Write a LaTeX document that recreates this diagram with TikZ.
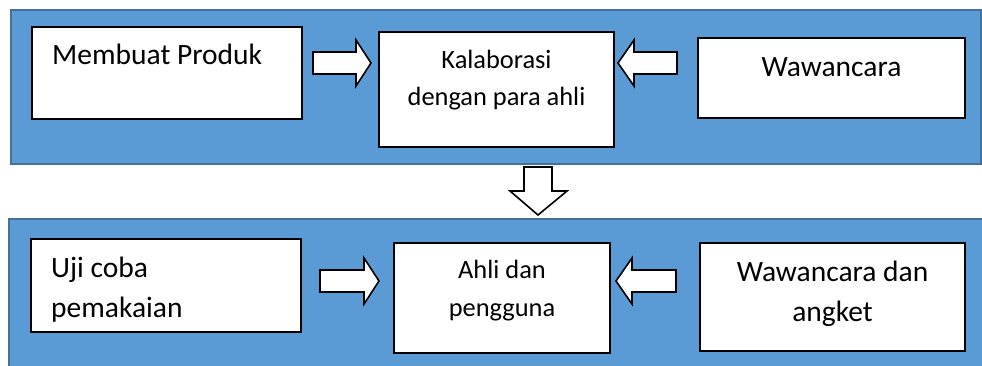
\documentclass[tikz,border=0pt]{standalone}
\usepackage{fontspec}
\setmainfont{Carlito}
\usetikzlibrary{calc}
\definecolor{panelblue}{HTML}{5B9BD5}
\definecolor{panelline}{HTML}{41719C}

% block arrow pointing right / left: tail, tip, head length
\newcommand{\arrright}[3]{\draw[blk] ($(#1)+(0,-11)$) -- ($(#2)+(-#3,-11)$) -- ($(#2)+(-#3,-23)$) -- (#2) -- ($(#2)+(-#3,23)$) -- ($(#2)+(-#3,11)$) -- ($(#1)+(0,11)$) -- cycle;}
\newcommand{\arrleft}[3]{\draw[blk] ($(#1)+(0,-11)$) -- ($(#2)+(#3,-11)$) -- ($(#2)+(#3,-23)$) -- (#2) -- ($(#2)+(#3,23)$) -- ($(#2)+(#3,11)$) -- ($(#1)+(0,11)$) -- cycle;}

\begin{document}
\begin{tikzpicture}[x=1pt,y=-1pt]
        \tikzset{panel/.style={draw=panelline,line width=2pt,fill=panelblue},
                 box/.style={draw,line width=2pt,fill=white,inner sep=0pt},
                 blk/.style={draw,line width=1.6pt,fill=white,line join=miter},
                 big/.style={font=\fontsize{29.5}{40}\selectfont,inner sep=0pt},
                 small/.style={font=\fontsize{26.4}{37}\selectfont,inner sep=0pt}}
        \useasboundingbox (0,0) rectangle (982,365);
        % panels
        \draw[panel] (11,10) rectangle (981,164);
        \draw[panel] (9,219) rectangle (984,370);
        % top row
        \node[box,minimum width=270,minimum height=92] (mb) at (167,73) {};
        \node[big,anchor=base west] (mp) at ($(mb.north west)+(21,38)$) {Membuat Produk};
        \node[box,minimum width=235,minimum height=115] (kb) at (496.5,89.5) {};
        \node[small,anchor=base,align=center] (ka) at ($(kb.north)+(0,74)$) {Kalaborasi\\dengan para ahli};
        \node[box,minimum width=267,minimum height=80] (wb) at (831.5,78) {};
        \node[big,anchor=base] (ww) at ($(wb.north)+(0,39)$) {Wawancara};
        % bottom row
        \node[box,minimum width=270,minimum height=93] (ub) at (166,285.5) {};
        \node[big,anchor=base west,align=left] (uj) at ($(ub.north west)+(21,79)$) {Uji coba\\pemakaian};
        \node[box,minimum width=216,minimum height=110] (ab) at (502,298) {};
        \node[small,anchor=base,align=center,font=\fontsize{26.4}{38}\selectfont] (ad) at ($(ab.north)+(0,74)$) {Ahli dan\\pengguna};
        \node[box,minimum width=265,minimum height=108] (vb) at (832.5,297) {};
        \node[big,anchor=base,align=center] (wa) at ($(vb.north)+(0,79)$) {Wawancara dan\\angket};
        % block arrows
        \coordinate (a1) at ($(mb.east |- 0,63)+(10,0)$); \coordinate (a1t) at ($(kb.west |- 0,63)+(-7,0)$);
        \coordinate (a2) at ($(wb.west |- 0,63)+(-20,0)$); \coordinate (a2t) at ($(kb.east |- 0,63)+(3,0)$);
        \coordinate (a3) at ($(ub.east |- 0,281)+(18,0)$); \coordinate (a3t) at ($(ab.west |- 0,281)+(-14,0)$);
        \coordinate (a4) at ($(vb.west |- 0,281)+(-23,0)$); \coordinate (a4t) at ($(ab.east |- 0,281)+(5,0)$);
        \arrright{a1}{a1t}{15}
        \arrleft{a2}{a2t}{16}
        \arrright{a3}{a3t}{15}
        \arrleft{a4}{a4t}{16}
        \coordinate (d1) at (538,167); \coordinate (d1t) at (538,215);
        \draw[blk] ($(d1)+(-14,0)$) -- ($(d1t)+(-14,-24)$) -- ($(d1t)+(-28,-24)$) -- (d1t) -- ($(d1t)+(29,-24)$) -- ($(d1t)+(14,-24)$) -- ($(d1)+(14,0)$) -- cycle;
\end{tikzpicture}
\end{document}
